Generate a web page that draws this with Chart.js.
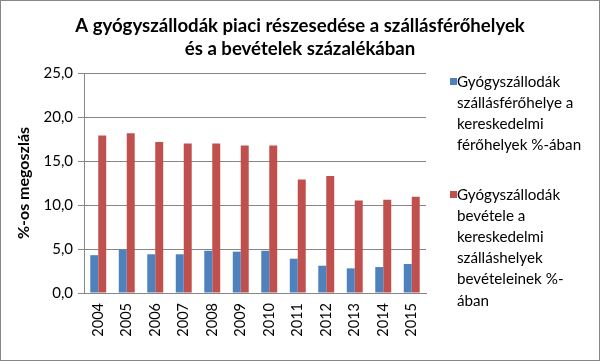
<!DOCTYPE html>
<html>
<head>
<meta charset="utf-8">
<script src="https://cdn.jsdelivr.net/npm/chart.js@4"></script>
<style>
  body { margin: 0; background: #fff; }
  .box { width: 600px; height: 361px; box-sizing: border-box; border: 1px solid #878787; background: #fff; }
  canvas { display: block; }
</style>
</head>
<body>
<div class="box"><canvas id="chart" width="598" height="359"></canvas></div>
<script>
/* adatok */
const years = ['2004', '2005', '2006', '2007', '2008', '2009', '2010', '2011', '2012', '2013', '2014', '2015'];
const ferohely = [4.3, 4.95, 4.4, 4.4, 4.8, 4.7, 4.8, 3.9, 3.1, 2.8, 2.95, 3.3];
const bevetel = [17.9, 18.15, 17.15, 17.0, 17.0, 16.75, 16.75, 12.9, 13.3, 10.5, 10.6, 10.95];
const seriesNames = [
    ['Gyógyszállodák', 'szállásférőhelye a', 'kereskedelmi', 'férőhelyek %-ában'],
    ['Gyógyszállodák', 'bevétele a', 'kereskedelmi', 'szálláshelyek', 'bevételeinek %-', 'ában']
];
const titleLines = ['A gyógyszállodák piaci részesedése a szállásférőhelyek', 'és a bevételek százalékában'];
const yTitle = '%-os megoszlás';

const FONT = "Lato, 'Open Sans', sans-serif";
const colors = ['#4F81BD', '#C0504D'];

// betűméret a mintakép szélességéhez igazítva
function fitSize(text, weight, width) {
    const c = document.createElement('canvas').getContext('2d');
    c.font = weight + ' 100px ' + FONT;
    return Math.round(100 * width / c.measureText(text).width * 10) / 10;
}

// jelmagyarázat kézzel, mert több soros
const legendPlugin = {
    id: 'sideLegend',
    afterDraw(chart) {
        const ctx = chart.ctx;
        const area = chart.chartArea;
        const lineH = 21.2;
        const size = fitSize('férőhelyek %-ában', 'normal', 124);
        let y = area.top + 9;
        ctx.save();
        ctx.font = size + 'px ' + FONT;
        ctx.textBaseline = 'middle';
        seriesNames.forEach(function(lines, i) {
            ctx.fillStyle = colors[i];
            ctx.fillRect(area.right + 24, Math.round(y) - 4, 7, 7);
            ctx.fillStyle = '#000';
            lines.forEach(function(line, j) {
                ctx.fillText(line, area.right + 31, y + j * lineH);
            });
            y += lines.length * lineH + 28;
        });
        ctx.restore();
    }
};

document.addEventListener('DOMContentLoaded', function() {
    const titleSize = fitSize(titleLines[0], 'bold', 449);
    const yTitleSize = fitSize(yTitle, 'bold', 112);
    const ctx = document.getElementById('chart');
    new Chart(ctx, {
        type: 'bar',
        data: {
            labels: years,
            datasets: [
                { label: seriesNames[0].join(' '), data: ferohely, backgroundColor: colors[0] },
                { label: seriesNames[1].join(' '), data: bevetel, backgroundColor: colors[1] }
            ]
        },
        options: {
            responsive: false,
            animation: false,
            layout: { padding: 0 },
            datasets: { bar: { barPercentage: 1, categoryPercentage: 0.56 } },
            plugins: {
                legend: { display: false },
                tooltip: { enabled: false },
                title: {
                    display: true,
                    text: titleLines,
                    color: '#000',
                    font: { family: FONT, size: titleSize, weight: 'bold', lineHeight: 23 / titleSize },
                    padding: { top: 13, bottom: 13 }
                }
            },
            scales: {
                x: {
                    grid: { display: false, drawTicks: false },
                    border: { color: '#878787' },
                    ticks: {
                        color: '#000',
                        font: { family: FONT, size: 14.5 },
                        minRotation: 90,
                        maxRotation: 90,
                        padding: 10
                    },
                    afterFit(scale) { scale.height = 67; }
                },
                y: {
                    min: 0,
                    max: 25,
                    ticks: {
                        stepSize: 5,
                        color: '#000',
                        font: { family: FONT, size: 15 },
                        padding: 5,
                        callback: function(v) { return v.toFixed(1).replace('.', ','); }
                    },
                    grid: { color: '#878787', tickLength: 6 },
                    border: { color: '#878787' },
                    title: {
                        display: true,
                        text: yTitle,
                        color: '#000',
                        font: { family: FONT, size: yTitleSize, weight: 'bold' },
                        padding: { top: 13, bottom: 0 }
                    },
                    afterFit(scale) { scale.width = 83; }
                },
                // üres sáv jobbra a jelmagyarázatnak
                legendSpace: {
                    type: 'linear',
                    position: 'right',
                    grid: { display: false },
                    border: { display: false },
                    ticks: { display: false },
                    afterFit(scale) { scale.width = 173; }
                }
            }
        },
        plugins: [legendPlugin]
    });
});
</script>
</body>
</html>
